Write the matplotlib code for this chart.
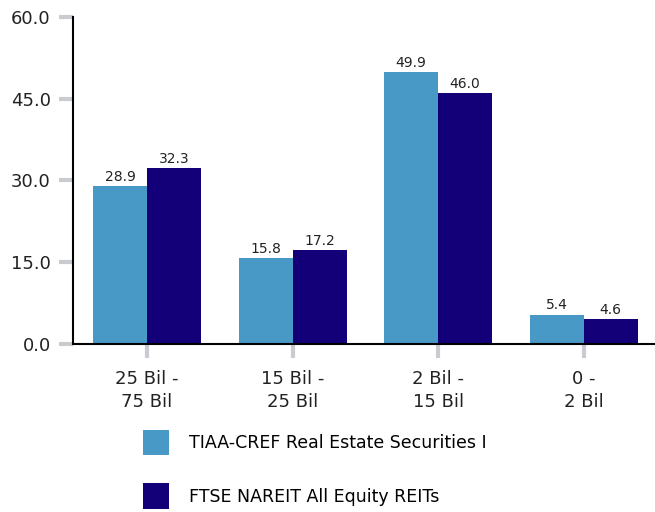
import matplotlib.pyplot as plt
import numpy as np

categories = ["25 Bil -\n75 Bil", "15 Bil -\n25 Bil", "2 Bil -\n15 Bil", "0 -\n2 Bil"]
fund = [28.9, 15.8, 49.9, 5.4]
index = [32.3, 17.2, 46.0, 4.6]
series_names = ["TIAA-CREF Real Estate Securities I", "FTSE NAREIT All Equity REITs"]
yticks = [0, 15, 30, 45, 60]

plt.rcParams['font.family'] = ['DejaVu Sans']

fig = plt.figure(figsize=(6.55, 5.12), dpi=100)
ax = fig.add_axes([0.1115, 0.328, 0.8885, 0.639])

x = np.arange(len(categories))
w = 0.371
b1 = ax.bar(x - w / 2, fund, w, color="#4899c5", label=series_names[0])
b2 = ax.bar(x + w / 2, index, w, color="#130078", label=series_names[1])

for bars, vals in ((b1, fund), (b2, index)):
    for r, v in zip(bars, vals):
        ax.text(r.get_x() + r.get_width() / 2, v + 0.4, f"{v:.1f}",
                ha="center", va="bottom", fontsize=10, color="#222222")

ax.set_xlim(-0.509, 3.49)
ax.set_ylim(0, 60)
ax.set_yticks(yticks)
ax.set_yticklabels([f"{t:.1f}" for t in yticks])
ax.set_xticks(x)
ax.set_xticklabels(categories, linespacing=1.35)

for s in ("top", "right"):
    ax.spines[s].set_visible(False)
ax.spines["left"].set_linewidth(1.5)
ax.spines["bottom"].set_linewidth(1.5)
ax.tick_params(axis="both", colors="#c8ccd0", width=3, length=10, labelsize=13,
               labelcolor="#222222")
ax.tick_params(axis="y", pad=6)
ax.tick_params(axis="x", pad=9)

fig.legend(handles=[b1, b2], loc="upper left", bbox_to_anchor=(0.218, 0.161),
           frameon=False, fontsize=12.5, handlelength=1.5, handleheight=1.92,
           handletextpad=1.15, labelspacing=1.61, borderaxespad=0, borderpad=0)

fig.savefig("out.png", dpi=100)
